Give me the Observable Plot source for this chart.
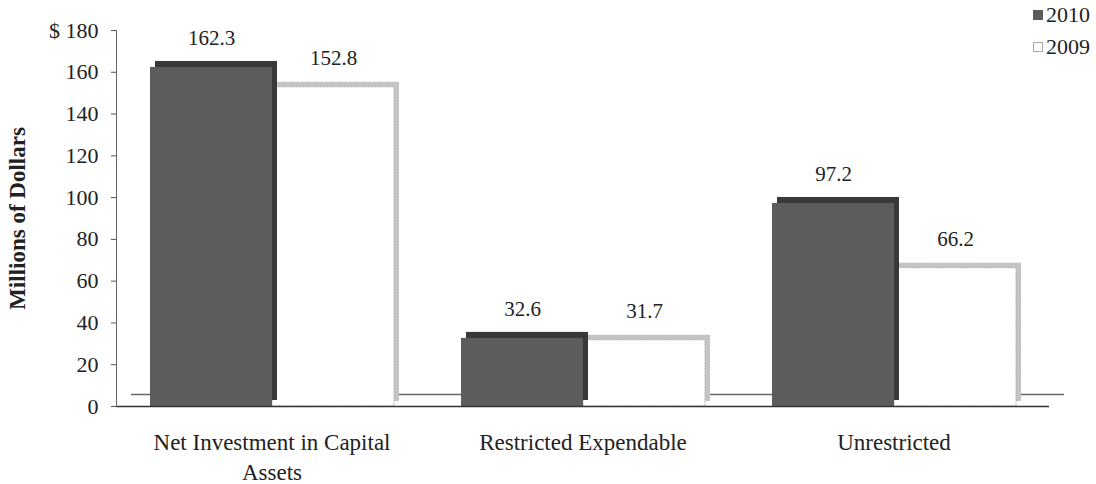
<!DOCTYPE html>
<html>
<head>
<meta charset="utf-8">
<script src="https://cdn.jsdelivr.net/npm/d3@7"></script>
<script src="https://cdn.jsdelivr.net/npm/@observablehq/plot@0.6"></script>
<style>
  html, body { margin: 0; padding: 0; background: #ffffff; }
  #wrap { position: relative; width: 1096px; height: 484px; font-family: "Liberation Serif", "Times New Roman", serif; color: #222; }
  #legend { position: absolute; right: 6px; top: -1px; font-size: 22px; line-height: 32px; }
  #legend .item { display: flex; align-items: center; gap: 3px; }
  #legend .sw { display: inline-block; width: 10px; height: 10px; box-sizing: border-box; }
</style>
</head>
<body>
<div id="wrap">
  <div id="chart"></div>
  <div id="legend"></div>
</div>
<script>
const categories = ["Net Investment in Capital Assets", "Restricted Expendable", "Unrestricted"];
const categoryLabels = ["Net Investment in Capital\nAssets", "Restricted Expendable", "Unrestricted"];
const years = ["2010", "2009"];
const values2010 = [162.3, 32.6, 97.2];
const values2009 = [152.8, 31.7, 66.2];
const yTicks = [0, 20, 40, 60, 80, 100, 120, 140, 160, 180];
const yTickLabels = ["0", "20", "40", "60", "80", "100", "120", "140", "160", "$ 180"];

const data = categories.flatMap((c, i) => [
  {category: c, year: years[0], value: values2010[i]},
  {category: c, year: years[1], value: values2009[i]}
]);
const d2010 = data.filter(d => d.year === "2010");
const d2009 = data.filter(d => d.year === "2009");

const chart = Plot.plot({
  width: 1096,
  height: 484,
  marginLeft: 115,
  marginRight: 46,
  marginTop: 30,
  marginBottom: 78,
  style: {fontFamily: "Liberation Serif, Times New Roman, serif", fontSize: "22px", color: "#222", background: "#ffffff"},
  fx: {domain: categories, padding: 0, label: null},
  x: {domain: years, paddingInner: 0, paddingOuter: 0.27, axis: null},
  y: {domain: [0, 180], label: null},
  color: {domain: years, range: ["#5c5c5c", "#ffffff"]},
  marks: [
    // floor (3D base)
    Plot.ruleY([0], {dx: 15, dy: -12, stroke: "#666", strokeWidth: 1.5}),
    // 2009 bars (3D depth + front)
    Plot.barY(d2009, {fx: "category", x: "year", y: "value", fill: "#c4c4c4", dx: 5, dy: -5}),
    Plot.barY(d2009, {fx: "category", x: "year", y: "value", fill: "year", stroke: "#b0b0b0", strokeWidth: 1, strokeDasharray: "2,1"}),
    // 2010 bars (3D depth + front)
    Plot.barY(d2010, {fx: "category", x: "year", y: "value", fill: "#383838", dx: 5, dy: -6}),
    Plot.barY(d2010, {fx: "category", x: "year", y: "value", fill: "year"}),
    Plot.ruleY([0], {stroke: "#333", strokeWidth: 1.5}),
    Plot.frame({anchor: "left", facetAnchor: "left", stroke: "#666"}),
    // value labels
    Plot.text(data, {fx: "category", x: "year", y: "value", text: d => d.value.toFixed(1), dy: -29, fontSize: 21, fill: "#222"}),
    Plot.axisY({
      ticks: yTicks,
      tickFormat: d => yTickLabels[yTicks.indexOf(d)],
      tickSize: 5,
      tickPadding: 13,
      label: "Millions of Dollars",
      labelArrow: "none",
      labelAnchor: "center",
      labelOffset: 108,
      stroke: "#555"
    }),
    Plot.axisFx({
      anchor: "bottom",
      tickSize: 0,
      tickPadding: 22,
      fontSize: 23,
      tickFormat: d => categoryLabels[categories.indexOf(d)],
      lineHeight: 1.3,
      label: null
    })
  ]
});

// y-axis title: bold, larger, no arrow
d3.select(chart).selectAll("g[aria-label='y-axis label']")
  .attr("font-weight", "bold")
  .attr("font-size", 23)
  .selectAll("text").text("Millions of Dollars");

document.getElementById("chart").appendChild(chart);

// legend (top right)
const legendColors = {"2010": "#5c5c5c", "2009": "#ffffff"};
const legend = d3.select("#legend");
years.forEach(y => {
  const item = legend.append("div").attr("class", "item");
  item.append("span").attr("class", "sw")
    .style("background", legendColors[y])
    .style("border", y === "2009" ? "1px solid #aaa" : "none");
  item.append("span").text(y);
});
</script>
</body>
</html>
